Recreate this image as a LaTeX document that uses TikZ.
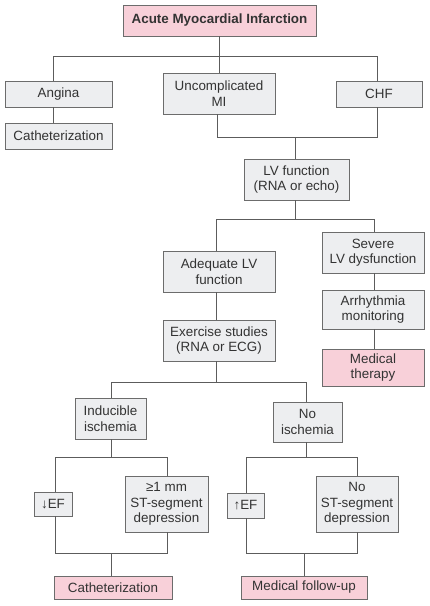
\documentclass[tikz,border=0pt]{standalone}
\usepackage{fontspec}
\setmainfont{Liberation Sans}
\definecolor{boxgray}{HTML}{EDEEF0}
\definecolor{boxpink}{HTML}{F8D0D9}
\definecolor{linegray}{HTML}{5C5C5C}
\begin{document}
\begin{tikzpicture}[x=1pt, y=-1pt,
    every node/.style={draw=linegray!90, line width=0.9pt, fill=boxgray, align=center, inner sep=0pt,
        font=\fontsize{13.4}{15.5}\selectfont, text=black!80},
    box/.style args={#1x#2}{minimum width=#1pt, minimum height=#2pt},
    pinkbox/.style={fill=boxpink},
    conn/.style={draw=linegray, line width=0.8pt}]
    \useasboundingbox (0,0) rectangle (430,606);
    % boxes
    \node[box=193x31, pinkbox] (ami) at (219.5,20.5) {\bfseries Acute Myocardial Infarction};
    \node[box=107x26] (angina) at (58.5,94) {Angina};
    \node[box=107x26] (cath1) at (58.5,136) {Catheterization};
    \node[box=112x41] (umi) at (219,93.5) {Uncomplicated\\MI};
    \node[box=86x26] (chf) at (379,94) {CHF};
    \node[box=105x41] (lvf) at (296.5,179.5) {LV function\\(RNA or echo)};
    \node[box=112x41] (adeq) at (219,271.5) {Adequate LV\\function};
    \node[box=102x41] (severe) at (373,252.5) {Severe\\LV dysfunction};
    \node[box=102x39] (arrh) at (373,309.5) {Arrhythmia\\monitoring};
    \node[box=112x41] (exer) at (219,340.5) {Exercise studies\\(RNA or ECG)};
    \node[box=102x37, pinkbox] (medther) at (373,367.5) {Medical\\therapy};
    \node[box=71x41] (induc) at (110.5,418.5) {Inducible\\ischemia};
    \node[box=69x40] (noisch) at (307.5,422) {No\\ischemia};
    \node[box=38x24] (efdown) at (53,504) {↓EF};
    \node[box=83x56] (stdep) at (166.5,504) {≥1 mm\\ST-segment\\depression};
    \node[box=37x25] (efup) at (245.5,505.5) {↑EF};
    \node[box=82x56] (nost) at (357,504) {No\\ST-segment\\depression};
    \node[box=118x23, pinkbox] (cath2) at (113,587.5) {Catheterization};
    \node[box=126x23, pinkbox] (follow) at (304,587.5) {Medical follow-up};
    % junctions
    \coordinate (j1w) at (53,56);
    \coordinate (j1e) at (377,56);
    \coordinate (j2w) at (217,137);
    \coordinate (j2e) at (377,137);
    \coordinate (j2m) at (295,137);
    \coordinate (j3w) at (216,219);
    \coordinate (j3e) at (374,219);
    \coordinate (j4w) at (111,382);
    \coordinate (j4e) at (306,382);
    \coordinate (j5w) at (55,457);
    \coordinate (j5e) at (167,457);
    \coordinate (j6w) at (246,457);
    \coordinate (j6e) at (357,457);
    \coordinate (j7w) at (55,553);
    \coordinate (j7e) at (167,553);
    \coordinate (j8w) at (246,553);
    \coordinate (j8e) at (357,553);
    % connectors
    \draw[conn] (ami.south -| umi.north) -- (umi.north);
    \draw[conn] (angina.north -| j1w) -- (j1w) -- (j1e) -- (chf.north -| j1e);
    \draw[conn] (angina.south -| j1w) -- (cath1.north -| j1w);
    \draw[conn] (umi.south -| j2w) -- (j2w) -- (j2e) -- (chf.south -| j2e);
    \draw[conn] (j2m) -- (lvf.north -| j2m);
    \draw[conn] (lvf.south -| j2m) -- (j3w -| j2m);
    \draw[conn] (adeq.north -| j3w) -- (j3w) -- (j3e) -- (severe.north -| j3e);
    \draw[conn] (adeq.south -| j3w) -- (exer.north -| j3w);
    \draw[conn] (severe.south -| j3e) -- (arrh.north -| j3e);
    \draw[conn] (arrh.south -| j3e) -- (medther.north -| j3e);
    \draw[conn] (exer.south -| j3w) -- (j4w -| j3w);
    \draw[conn] (induc.north -| j4w) -- (j4w) -- (j4e) -- (noisch.north -| j4e);
    \draw[conn] (induc.south -| j4w) -- (j5w -| j4w);
    \draw[conn] (efdown.north -| j5w) -- (j5w) -- (j5e) -- (stdep.north -| j5e);
    \draw[conn] (noisch.south -| j4e) -- (j6w -| j4e);
    \draw[conn] (efup.north -| j6w) -- (j6w) -- (j6e) -- (nost.north -| j6e);
    \draw[conn] (efdown.south -| j7w) -- (j7w) -- (j7e) -- (stdep.south -| j7e);
    \draw[conn] (j7w -| j4w) -- (cath2.north -| j4w);
    \draw[conn] (efup.south -| j8w) -- (j8w) -- (j8e) -- (nost.south -| j8e);
    \draw[conn] (j8w -| follow.north) -- (follow.north);
\end{tikzpicture}
\end{document}
